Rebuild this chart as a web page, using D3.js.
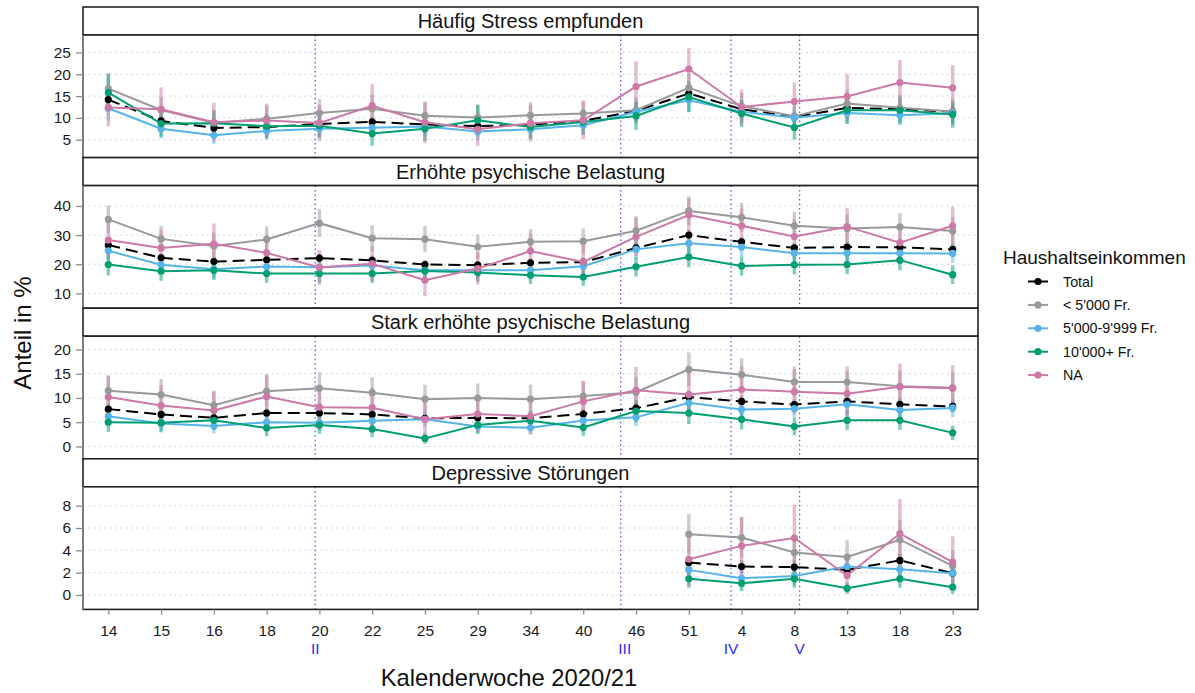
<!DOCTYPE html>
<html>
<head>
<meta charset="utf-8">
<script src="https://cdn.jsdelivr.net/npm/d3@7"></script>
<style>
  html, body { margin: 0; padding: 0; background: #fff; }
  svg { display: block; font-family: "Liberation Sans", Arial, sans-serif; }
</style>
</head>
<body>
<svg id="chart" width="1195" height="693"></svg>
<script>
// Calendar weeks 2020/21 (x categories)
const weeks = ["14","15","16","18","20","22","25","29","34","40","46","51","4","8","13","18","23"];

// Series (income groups)
const groups = ["Total", "< 5'000 Fr.", "5'000-9'999 Fr.", "10'000+ Fr.", "NA"];
const groupColors = ["#000000", "#999999", "#56B4E9", "#009E73", "#CC79A7"];

// Lockdown / wave markers, positions in week-index units
const phaseLabels = ["II", "III", "IV", "V"];
const phasePositions = [3.92, 9.71, 11.8, 13.1];

// Panel titles and y tick values
const panelTitles = ["Häufig Stress empfunden", "Erhöhte psychische Belastung",
                     "Stark erhöhte psychische Belastung", "Depressive Störungen"];
const panelTicks = [[5,10,15,20,25], [10,20,30,40], [0,5,10,15,20], [0,2,4,6,8]];
const panelDomains = [[0.9, 29.0], [4.9, 47.0], [-2.55, 22.75], [-1.29, 9.69]];

// --- Häufig Stress empfunden (%), with half-width of the 95% CI
const stressTotal = [14.2, 9.3, 7.7, 7.9, 8.6, 9.1, 8.5, 8.1, 8.45, 9.3, 11.6, 15.6, 12.0, 10.2, 12.3, 12.0, 11.4];
const stressLow   = [16.7, 11.8, 8.9, 9.8, 11.1, 12.1, 10.5, 10.1, 10.6, 11.0, 11.75, 16.9, 12.7, 10.4, 13.3, 12.3, 11.45];
const stressMid   = [12.2, 7.5, 6.0, 7.0, 7.5, 7.75, 8.0, 6.9, 7.4, 8.3, 11.4, 14.05, 11.4, 10.05, 11.1, 10.6, 11.05];
const stressHigh  = [15.8, 8.7, 8.8, 8.1, 8.2, 6.4, 7.5, 9.45, 7.9, 9.05, 10.45, 14.8, 11.0, 7.8, 11.75, 11.75, 10.75];
const stressNA    = [12.4, 12.0, 9.0, 9.4, 8.85, 12.8, 9.0, 7.4, 8.8, 9.45, 17.2, 21.2, 12.5, 13.75, 14.9, 18.1, 16.9];
const stressTotalCI = [1.3, 1.2, 1.1, 1.1, 1.1, 1.1, 1.1, 1.1, 1.1, 1.1, 1.2, 1.3, 1.2, 1.1, 1.2, 1.2, 1.2];
const stressLowCI   = [3.5, 3.0, 3.0, 3.0, 3.2, 3.2, 3.0, 3.0, 3.0, 3.0, 3.0, 3.3, 3.0, 3.0, 3.2, 3.0, 3.0];
const stressMidCI   = [2.8, 2.2, 2.0, 2.0, 2.0, 2.2, 2.2, 2.0, 2.0, 2.2, 2.4, 2.6, 2.4, 2.3, 2.4, 2.3, 2.3];
const stressHighCI  = [4.3, 3.0, 2.8, 2.8, 2.8, 2.8, 2.8, 3.5, 2.8, 2.9, 3.2, 3.5, 3.1, 2.8, 3.1, 3.1, 3.0];
const stressNACI    = [4.3, 5.0, 4.5, 3.9, 4.2, 4.9, 4.8, 3.8, 4.2, 4.3, 5.8, 4.8, 4.0, 4.4, 5.1, 5.2, 5.2];

// --- Erhöhte psychische Belastung (%)
const burdenTotal = [26.6, 22.2, 20.9, 21.5, 22.1, 21.3, 19.9, 19.7, 20.5, 20.7, 25.6, 30.0, 27.7, 25.6, 25.9, 25.8, 25.1];
const burdenLow   = [35.4, 28.7, 26.3, 28.5, 34.1, 28.9, 28.6, 26.0, 27.7, 27.9, 31.5, 38.3, 36.1, 33.2, 32.3, 32.8, 31.4];
const burdenMid   = [24.6, 19.8, 18.3, 19.2, 19.0, 19.6, 17.9, 17.9, 17.9, 19.3, 25.1, 27.2, 25.9, 23.8, 23.8, 23.8, 23.7];
const burdenHigh  = [19.9, 17.6, 17.9, 16.8, 16.8, 16.8, 17.7, 17.2, 16.2, 15.6, 19.1, 22.5, 19.4, 19.8, 19.9, 21.4, 16.4];
const burdenNA    = [28.3, 25.6, 27.0, 23.9, 18.9, 20.2, 14.5, 18.5, 24.5, 20.8, 29.4, 36.9, 33.2, 29.5, 32.9, 27.4, 33.2];
const burdenTotalCI = [1.8, 1.6, 1.5, 1.5, 1.6, 1.6, 1.5, 1.5, 1.5, 1.6, 1.7, 1.8, 1.7, 1.6, 1.7, 1.7, 1.7];
const burdenLowCI   = [4.8, 4.5, 4.5, 4.5, 4.8, 4.5, 4.5, 4.2, 4.3, 4.4, 5.0, 5.0, 5.0, 4.8, 4.8, 4.8, 4.8];
const burdenMidCI   = [3.2, 3.0, 3.0, 3.0, 3.0, 3.0, 2.8, 2.8, 2.8, 2.9, 3.2, 3.3, 3.2, 3.1, 3.1, 3.1, 3.2];
const burdenHighCI  = [3.8, 3.3, 3.3, 3.2, 3.2, 3.2, 3.2, 3.2, 3.0, 3.0, 3.3, 3.6, 3.3, 3.3, 3.3, 3.5, 3.2];
const burdenNACI    = [6.0, 6.2, 7.0, 6.0, 6.0, 6.0, 5.5, 5.5, 6.0, 6.0, 6.6, 5.7, 6.0, 6.0, 6.4, 6.0, 6.6];

// --- Stark erhöhte psychische Belastung (%)
const severeTotal = [7.7, 6.6, 5.9, 6.9, 6.9, 6.6, 5.8, 5.9, 5.8, 6.7, 7.9, 10.2, 9.3, 8.65, 9.3, 8.7, 8.25];
const severeLow   = [11.5, 10.7, 8.5, 11.4, 12.0, 11.1, 9.75, 10.0, 9.75, 10.4, 11.2, 15.9, 14.8, 13.3, 13.3, 12.4, 12.1];
const severeMid   = [6.25, 4.75, 4.2, 5.0, 4.9, 5.3, 5.6, 4.1, 3.85, 5.35, 6.0, 9.0, 7.6, 7.8, 8.7, 7.5, 7.95];
const severeHigh  = [5.0, 4.9, 5.4, 3.8, 4.4, 3.6, 1.65, 4.45, 5.3, 3.9, 7.3, 6.9, 5.6, 4.1, 5.4, 5.4, 2.8];
const severeNA    = [10.2, 8.45, 7.4, 10.3, 8.1, 8.0, 5.6, 6.7, 6.25, 9.3, 11.6, 10.7, 11.75, 11.3, 10.9, 12.3, 12.0];
const severeTotalCI = [1.1, 1.0, 1.0, 1.0, 1.0, 1.0, 0.9, 0.9, 0.9, 1.0, 1.1, 1.3, 1.2, 1.1, 1.2, 1.2, 1.2];
const severeLowCI   = [3.2, 3.2, 3.0, 3.3, 3.3, 3.2, 3.0, 3.0, 3.0, 3.1, 3.2, 3.5, 3.4, 3.2, 3.2, 3.2, 3.2];
const severeMidCI   = [1.8, 1.6, 1.5, 1.6, 1.6, 1.6, 1.6, 1.5, 1.4, 1.6, 1.8, 2.0, 1.9, 1.9, 2.0, 1.9, 1.9];
const severeHighCI  = [2.0, 2.0, 2.0, 1.7, 1.8, 1.7, 1.1, 1.8, 2.0, 1.7, 2.3, 2.3, 2.1, 1.8, 2.0, 2.0, 1.5];
const severeNACI    = [4.3, 4.2, 3.9, 4.6, 4.2, 4.2, 3.5, 3.7, 3.7, 4.2, 4.8, 4.7, 4.8, 4.6, 4.7, 4.8, 4.8];

// --- Depressive Störungen (%), surveyed from week 51 on
const _ = null;
const depTotal = [_, _, _, _, _, _, _, _, _, _, _, 2.9, 2.55, 2.5, 2.25, 3.1, 1.95];
const depLow   = [_, _, _, _, _, _, _, _, _, _, _, 5.45, 5.15, 3.8, 3.4, 4.95, 2.6];
const depMid   = [_, _, _, _, _, _, _, _, _, _, _, 2.25, 1.5, 1.7, 2.55, 2.3, 1.95];
const depHigh  = [_, _, _, _, _, _, _, _, _, _, _, 1.45, 1.05, 1.45, 0.6, 1.45, 0.7];
const depNA    = [_, _, _, _, _, _, _, _, _, _, _, 3.2, 4.4, 5.1, 1.75, 5.5, 2.95];
const depTotalCI = [_, _, _, _, _, _, _, _, _, _, _, 0.6, 0.6, 0.6, 0.5, 0.6, 0.5];
const depLowCI   = [_, _, _, _, _, _, _, _, _, _, _, 1.8, 1.8, 1.6, 1.5, 1.8, 1.4];
const depMidCI   = [_, _, _, _, _, _, _, _, _, _, _, 1.0, 0.8, 0.8, 1.0, 0.9, 0.8];
const depHighCI  = [_, _, _, _, _, _, _, _, _, _, _, 0.8, 0.7, 0.8, 0.5, 0.8, 0.6];
const depNACI    = [_, _, _, _, _, _, _, _, _, _, _, 2.4, 2.6, 3.0, 1.5, 3.1, 2.3];

const panelValues = [
  [stressTotal, stressLow, stressMid, stressHigh, stressNA],
  [burdenTotal, burdenLow, burdenMid, burdenHigh, burdenNA],
  [severeTotal, severeLow, severeMid, severeHigh, severeNA],
  [depTotal, depLow, depMid, depHigh, depNA]
];
const panelCI = [
  [stressTotalCI, stressLowCI, stressMidCI, stressHighCI, stressNACI],
  [burdenTotalCI, burdenLowCI, burdenMidCI, burdenHighCI, burdenNACI],
  [severeTotalCI, severeLowCI, severeMidCI, severeHighCI, severeNACI],
  [depTotalCI, depLowCI, depMidCI, depHighCI, depNACI]
];

// ---- layout
const svg = d3.select("#chart");
const left = 83, right = 978;
const firstTop = 7, rowStep = 150.6, stripH = 28, panelH = 122.6;
const fontTick = "15.5px";

svg.append("rect").attr("width", 1195).attr("height", 693).attr("fill", "#fff");

const x = d3.scalePoint().domain(d3.range(weeks.length)).range([left, right]).padding(0.48);
const xc = d3.scaleLinear().domain([0, weeks.length - 1]).range([x(0), x(weeks.length - 1)]);

panelTitles.forEach((title, p) => {
  const stripTop = firstTop + p * rowStep;
  const top = stripTop + stripH;
  const bottom = top + panelH;
  const y = d3.scaleLinear().domain(panelDomains[p]).range([bottom, top]);
  const g = svg.append("g");

  // strip
  g.append("rect").attr("x", left).attr("y", stripTop).attr("width", right - left).attr("height", stripH)
    .attr("fill", "#fff").attr("stroke", "#222").attr("stroke-width", 1.6);
  g.append("text").attr("x", (left + right) / 2).attr("y", stripTop + 21)
    .attr("text-anchor", "middle").attr("font-size", "20px").attr("fill", "#111").text(title);

  // panel background
  g.append("rect").attr("x", left).attr("y", top).attr("width", right - left).attr("height", panelH)
    .attr("fill", "#fff");

  // horizontal grid
  g.selectAll(".grid").data(panelTicks[p]).join("line")
    .attr("x1", left).attr("x2", right).attr("y1", d => y(d)).attr("y2", d => y(d))
    .attr("stroke", "#bdbdbd").attr("stroke-width", 1).attr("stroke-dasharray", "1.2,4.2");

  // phase markers
  g.selectAll(".phase").data(phasePositions).join("line")
    .attr("x1", d => xc(d)).attr("x2", d => xc(d)).attr("y1", top).attr("y2", bottom)
    .attr("stroke", "#4a4aff").attr("stroke-width", 1.2).attr("stroke-dasharray", "1.5,3");

  // series: error bars, lines, points
  const vals = panelValues[p], cis = panelCI[p];
  groups.forEach((grp, s) => {
    const col = groupColors[s];
    const pts = vals[s].map((v, i) => ({ i, v, ci: cis[s][i] })).filter(d => d.v != null);
    const eb = s === 0 ? "#555" : col;
    g.selectAll(null).data(pts).join("line")
      .attr("x1", d => x(d.i)).attr("x2", d => x(d.i))
      .attr("y1", d => y(d.v - d.ci)).attr("y2", d => y(d.v + d.ci))
      .attr("stroke", eb).attr("stroke-width", 3.4).attr("stroke-opacity", s === 0 ? 0.45 : 0.5);
  });
  groups.forEach((grp, s) => {
    const col = groupColors[s];
    const pts = vals[s].map((v, i) => ({ i, v })).filter(d => d.v != null);
    const line = d3.line().x(d => x(d.i)).y(d => y(d.v));
    g.append("path").datum(pts).attr("d", line).attr("fill", "none")
      .attr("stroke", col).attr("stroke-width", 2)
      .attr("stroke-dasharray", s === 0 ? "12,6" : null);
    g.selectAll(null).data(pts).join("circle")
      .attr("cx", d => x(d.i)).attr("cy", d => y(d.v)).attr("r", 3.6).attr("fill", col);
  });

  // panel border
  g.append("rect").attr("x", left).attr("y", top).attr("width", right - left).attr("height", panelH)
    .attr("fill", "none").attr("stroke", "#222").attr("stroke-width", 1.6);

  // y axis
  const ya = g.append("g").attr("transform", `translate(${left},0)`)
    .call(d3.axisLeft(y).tickValues(panelTicks[p]).tickSize(7).tickPadding(5).tickSizeOuter(0));
  ya.select(".domain").attr("stroke", "#8a8a8a").attr("stroke-width", 1.6)
    .attr("d", `M0,${top}V${bottom}`);
  ya.selectAll(".tick line").attr("stroke", "#8a8a8a").attr("stroke-width", 1.3);
  ya.selectAll(".tick text").attr("font-size", fontTick).attr("fill", "#1a1a1a")
    .attr("font-family", "Liberation Sans, Arial, sans-serif");

  // x axis under the last panel
  if (p === panelTitles.length - 1) {
    const xa = g.append("g").attr("transform", `translate(0,${bottom})`)
      .call(d3.axisBottom(x).tickFormat(i => weeks[i]).tickSize(5).tickPadding(11).tickSizeOuter(0));
    xa.select(".domain").remove();
    xa.selectAll(".tick line").attr("stroke", "#8a8a8a").attr("stroke-width", 1.3);
    xa.selectAll(".tick text").attr("font-size", fontTick).attr("fill", "#1a1a1a")
      .attr("font-family", "Liberation Sans, Arial, sans-serif");

    g.selectAll(".phaseLabel").data(phaseLabels).join("text")
      .attr("x", (d, k) => xc(phasePositions[k]) + (k === 1 ? 4 : 0))
      .attr("y", bottom + 45).attr("text-anchor", "middle")
      .attr("font-size", fontTick).attr("fill", "#2b2bf0").text(d => d);
  }
});

// axis titles
svg.append("text").attr("x", 509).attr("y", 686).attr("text-anchor", "middle")
  .attr("font-size", "23.8px").attr("fill", "#111").text("Kalenderwoche 2020/21");
svg.append("text").attr("transform", "translate(31,333) rotate(-90)").attr("text-anchor", "middle")
  .attr("font-size", "24px").attr("fill", "#111").text("Anteil in %");

// legend
const lg = svg.append("g").attr("transform", "translate(1003,0)");
lg.append("text").attr("x", 0).attr("y", 264).attr("font-size", "19px").attr("fill", "#111")
  .text("Haushaltseinkommen");
groups.forEach((grp, s) => {
  const yy = 281.5 + s * 23.4;
  lg.append("line").attr("x1", 25).attr("x2", 45).attr("y1", yy).attr("y2", yy)
    .attr("stroke", groupColors[s]).attr("stroke-width", 2);
  lg.append("circle").attr("cx", 35).attr("cy", yy).attr("r", 3.6).attr("fill", groupColors[s]);
  lg.append("text").attr("x", 60).attr("y", yy + 5).attr("font-size", "14.3px").attr("fill", "#111").text(grp);
});
</script>
</body>
</html>
